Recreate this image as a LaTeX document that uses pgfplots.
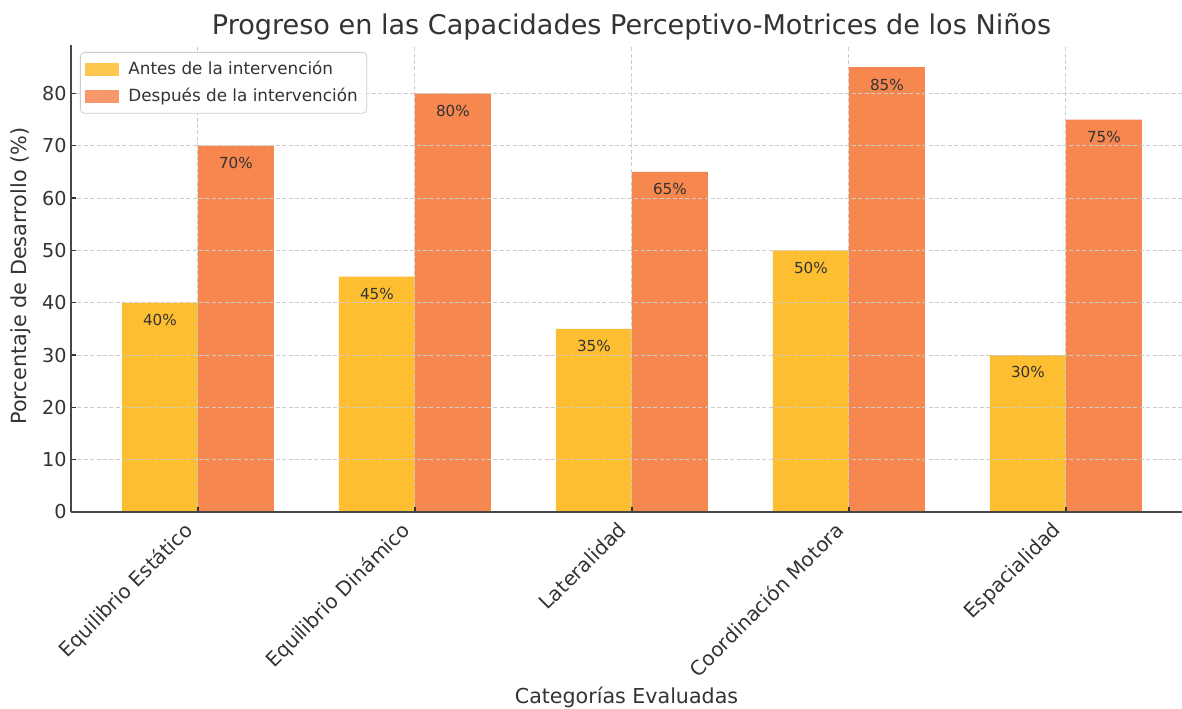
\documentclass[border=0pt]{standalone}
\usepackage{fontspec}
\setmainfont{DejaVu Sans}
\usepackage{pgfplots}
\pgfplotsset{compat=1.18}
\definecolor{cAntes}{HTML}{FDBE32}
\definecolor{cDesp}{HTML}{F5874F}
\definecolor{txt}{HTML}{333333}
\definecolor{gridc}{HTML}{CCCCCC}
\begin{document}
\begin{tikzpicture}
\useasboundingbox (-35.5pt,-98pt) rectangle (555.5pt,256pt);
\begin{axis}[
  anchor=south west, at={(0pt,0pt)},
  scale only axis, width=555.5pt, height=233.5pt,
  xmin=-0.585, xmax=4.535, ymin=0, ymax=89.25,
  axis x line*=bottom, axis y line*=left,
  axis line style={line width=0.8pt, color=txt!90},
  every outer x axis line/.append style={-}, every outer y axis line/.append style={-},
  xtick={0,1,2,3,4},
  xticklabels={Equilibrio Estático, Equilibrio Dinámico, Lateralidad, Coordinación Motora, Espacialidad},
  ytick={0,10,...,80},
  tick align=inside, major tick length=2.5pt,
  tick style={line width=0.6pt, color=txt},
  /pgf/number format/assume math mode=true,
  yticklabel style={font=\fontsize{9.6}{11}\selectfont, text=txt, inner sep=2pt},
  xticklabel style={xshift=-7.5pt, yshift=-2.5pt, rotate=45, anchor=north east, inner sep=1pt, font=\fontsize{10}{12}\selectfont, text=txt},
  grid=major, major grid style={dashed, dash pattern=on 2pt off 1.2pt, color=gridc, line width=0.5pt},
  axis on top,
  every axis title shift=0pt,
  title={Progreso en las Capacidades Perceptivo-Motrices de los Niños},
  title style={at={(axis description cs:0.5,1)}, anchor=base, yshift=5pt, xshift=2.5pt, font=\fontsize{13.55}{16}\selectfont, text=txt},
  xlabel={Categorías Evaluadas},
  xlabel style={at={(axis description cs:0.5,0)}, anchor=base, yshift=-95.5pt, font=\fontsize{10.3}{12}\selectfont, text=txt},
  ylabel={Porcentaje de Desarrollo (\%)},
  ylabel style={at={(axis description cs:-0.0405,0.505)}, anchor=base, font=\fontsize{10.4}{12}\selectfont, text=txt},
  legend style={at={(axis description cs:0,1)}, anchor=north west, xshift=4.5pt, yshift=-3.5pt,
    draw=gridc, rounded corners=2pt, fill=white, fill opacity=0.85, text opacity=1,
    font=\fontsize{8.4}{10}\selectfont, text=txt, row sep=1pt, inner xsep=2.5pt, inner ysep=2.5pt,
    /tikz/every odd column/.append style={column sep=2.5pt}},
  legend cell align=left,
  legend image code/.code={\fill[#1, sharp corners] (0pt,-3.25pt) rectangle (17pt,3.25pt);},
  nodes near coords={\pgfmathprintnumber{\pgfplotspointmeta}\%},
  every node near coord/.append style={anchor=center, yshift=-8.7pt, font=\fontsize{7.6}{9}\selectfont, text=txt},
]
\addplot[ybar, bar width=0.35, bar shift=-0.175, fill=cAntes, draw=none,
  every node near coord/.append style={xshift=-19pt}] coordinates {(0,40) (1,45) (2,35) (3,50) (4,30)};
\addlegendentry{Antes de la intervención}
\addplot[ybar, bar width=0.35, bar shift=0.175, fill=cDesp, draw=none,
  every node near coord/.append style={xshift=19pt}] coordinates {(0,70) (1,80) (2,65) (3,85) (4,75)};
\addlegendentry{Después de la intervención}
\end{axis}
\end{tikzpicture}
\end{document}
